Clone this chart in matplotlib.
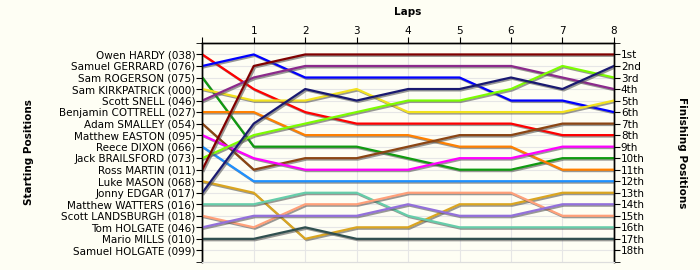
import matplotlib
matplotlib.use("Agg")
import matplotlib.pyplot as plt
import matplotlib.patheffects as pe

# Drivers in starting order
drivers = [
    "Owen HARDY (038)", "Samuel GERRARD (076)", "Sam ROGERSON (075)",
    "Sam KIRKPATRICK (000)", "Scott SNELL (046)", "Benjamin COTTRELL (027)",
    "Adam SMALLEY (054)", "Matthew EASTON (095)", "Reece DIXON (066)",
    "Jack BRAILSFORD (073)", "Ross MARTIN (011)", "Luke MASON (068)",
    "Jonny EDGAR (017)", "Matthew WATTERS (016)", "Scott LANDSBURGH (018)",
    "Tom HOLGATE (046)", "Mario MILLS (010)", "Samuel HOLGATE (099)",
]
finish_labels = ["1st", "2nd", "3rd"] + [f"{i}th" for i in range(4, 19)]
laps = [0, 1, 2, 3, 4, 5, 6, 7, 8]

# position at each lap (lap 0 = grid)
owen_hardy = [1, 4, 6, 7, 7, 7, 7, 8, 8]
samuel_gerrard = [2, 1, 3, 3, 3, 3, 5, 5, 6]
sam_rogerson = [3, 9, 9, 9, 10, 11, 11, 10, 10]
sam_kirkpatrick = [4, 5, 5, 4, 6, 6, 6, 6, 5]
scott_snell = [5, 3, 2, 2, 2, 2, 2, 3, 4]
benjamin_cottrell = [6, 6, 8, 8, 8, 9, 9, 11, 11]
adam_smalley = [7, 11, 10, 10, 9, 8, 8, 7, 7]
matthew_easton = [8, 10, 11, 11, 11, 10, 10, 9, 9]
reece_dixon = [9, 12, 12, 12, 12, 12, 12, 12, 12]
jack_brailsford = [10, 8, 7, 6, 5, 5, 4, 2, 3]
ross_martin = [11, 2, 1, 1, 1, 1, 1, 1, 1]
luke_mason = [12, 13, 17, 16, 16, 14, 14, 13, 13]
jonny_edgar = [13, 7, 4, 5, 4, 4, 3, 4, 2]
matthew_watters = [14, 14, 13, 13, 15, 16, 16, 16, 16]
scott_landsburgh = [15, 16, 14, 14, 13, 13, 13, 15, 15]
tom_holgate = [16, 15, 15, 15, 14, 15, 15, 14, 14]
mario_mills = [17, 17, 16, 17, 17, 17, 17, 17, 17]

series = [
    (owen_hardy, "#ff0000"), (samuel_gerrard, "#0000ff"),
    (sam_rogerson, "#109a10"), (sam_kirkpatrick, "#f2e21e"),
    (scott_snell, "#8b2a8b"), (benjamin_cottrell, "#ff8000"),
    (adam_smalley, "#8b4513"), (matthew_easton, "#ff00ff"),
    (reece_dixon, "#1e90ff"), (jack_brailsford, "#7cfc00"),
    (ross_martin, "#800000"), (luke_mason, "#daa520"),
    (jonny_edgar, "#191970"), (matthew_watters, "#66cdaa"),
    (scott_landsburgh, "#ffa07a"), (tom_holgate, "#9370db"),
    (mario_mills, "#2f4f4f"),
]

bg = "#fefef4"
plt.rcParams["font.family"] = "DejaVu Sans"
fig = plt.figure(figsize=(7, 2.7), dpi=100, facecolor=bg)
ax = fig.add_axes([0.289, 0.030, 0.588, 0.811], facecolor=bg)

for pos, col in series:
    ax.plot(laps, pos, color=col, lw=1.6, zorder=3,
            path_effects=[pe.SimpleLineShadow(offset=(1, -1), shadow_color="#555555", alpha=0.6),
                          pe.Normal()])

ax.set_xlim(0, 8)
ax.set_ylim(19, 0)
ax.set_xticks(laps)
ax.set_xticklabels([""] + [str(l) for l in laps[1:]])
ax.xaxis.tick_top()
ax.xaxis.set_label_position("top")
ax.set_xlabel("Laps", fontsize=7.5, fontweight="bold", labelpad=8)

ax.set_yticks(range(1, 19))
ax.set_yticklabels(drivers)
ax.set_yticks([0, 19], minor=True)
ax.tick_params(axis="y", which="both", direction="out", length=4, labelsize=7.5, pad=1,
               right=True)
ax.tick_params(axis="x", direction="out", length=4, labelsize=7.5, pad=1, bottom=False)
ax.set_ylabel("Starting Positions", fontsize=7.5, fontweight="bold", labelpad=18)

ax2 = ax.twinx()
ax2.set_ylim(19, 0)
ax2.set_yticks(range(1, 19))
ax2.set_yticklabels(finish_labels)
ax2.set_yticks([0, 19], minor=True)
ax2.tick_params(axis="y", which="both", direction="out", length=4, labelsize=7.5, pad=1)
ax2.set_ylabel("Finishing Positions", fontsize=7.5, fontweight="bold", rotation=-90,
               labelpad=30)

ax.grid(True, color="#e6e6e6", lw=0.8, zorder=0)
ax.set_axisbelow(True)
for a in (ax, ax2):
    a.spines["bottom"].set_color("#dddddd")
    for s in ("top", "left", "right"):
        a.spines[s].set_linewidth(1.0)

fig.savefig("out.png", dpi=100, facecolor=bg)
